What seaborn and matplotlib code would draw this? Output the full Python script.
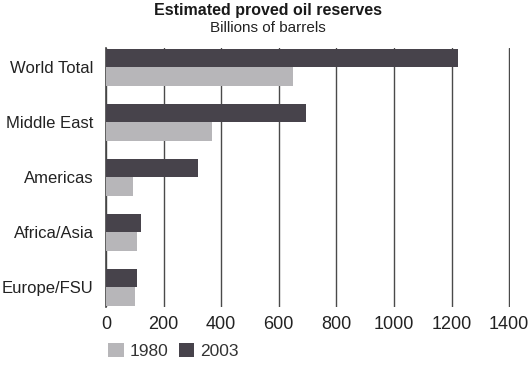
import matplotlib
matplotlib.use("Agg")
import matplotlib.pyplot as plt
import seaborn as sns
import pandas as pd
from matplotlib.patches import Patch

categories = ["World Total", "Middle East", "Americas", "Africa/Asia", "Europe/FSU"]
y1980 = [650, 368, 93, 108, 101]
y2003 = [1222, 693, 321, 123, 107]
xticks = [0, 200, 400, 600, 800, 1000, 1200, 1400]
title = "Estimated proved oil reserves"
subtitle = "Billions of barrels"

c1980 = "#b7b6b9"
c2003 = "#47434b"

df = pd.DataFrame({
    "region": categories * 2,
    "value": y2003 + y1980,
    "year": ["2003"] * len(categories) + ["1980"] * len(categories),
})

sns.set_style("white")
plt.rcParams["font.family"] = ["Liberation Sans", "DejaVu Sans"]

fig = plt.figure(figsize=(5.28, 3.68), dpi=100)
ax = fig.add_axes([106/528, 1 - 306.5/368, (510 - 106)/528, (306.5 - 48)/368])

sns.barplot(data=df, y="region", x="value", hue="year", hue_order=["2003", "1980"],
            order=categories, palette={"2003": c2003, "1980": c1980},
            width=0.67, orient="h", ax=ax, legend=False, saturation=1,
            edgecolor="none", linewidth=0, zorder=3)

ax.set_xlim(0, 1403)
ax.set_ylim(4.35, -0.35)
ax.set_xticks(xticks)
ax.set_xticklabels([str(t) for t in xticks], fontsize=13, color="#222222")
ax.tick_params(axis="x", length=0, pad=7)
ax.tick_params(axis="y", length=0, pad=9, labelsize=12, labelcolor="#222222")
ax.set_xlabel("")
ax.set_ylabel("")
ax.xaxis.grid(True, color="#4a4a4a", linewidth=1.0, zorder=0)
ax.set_axisbelow(True)
for s in ["top", "right", "bottom"]:
    ax.spines[s].set_visible(False)
ax.spines["left"].set_color("#444444")
ax.spines["left"].set_linewidth(1.2)

fig.text(0.508, 1 - 14.5/368, title, ha="center", va="baseline",
         fontsize=11.5, fontweight="bold", color="#1a1a1a")
fig.text(0.508, 1 - 32/368, subtitle, ha="center", va="baseline",
         fontsize=11, color="#222222")

handles = [Patch(facecolor=c1980, edgecolor="none", label="1980"),
           Patch(facecolor=c2003, edgecolor="none", label="2003")]
fig.legend(handles=handles, loc="center left", bbox_to_anchor=(101/528, 1 - 351/368),
           ncol=2, frameon=False, fontsize=12.5, handlelength=0.9, handleheight=0.9,
           handletextpad=0.35, columnspacing=0.6, borderaxespad=0, labelcolor="#333333")

fig.savefig("out.png", dpi=100)
